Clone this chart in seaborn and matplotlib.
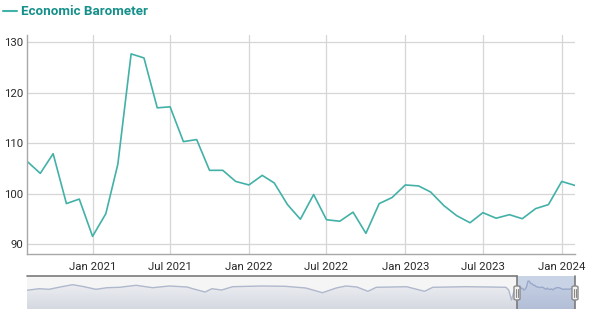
import numpy as np
import pandas as pd
import matplotlib
matplotlib.use("Agg")
import matplotlib.pyplot as plt
import matplotlib.dates as mdates
from matplotlib.patches import FancyBboxPatch
import seaborn as sns

# ---- data -------------------------------------------------------------
series_name = "Economic Barometer"
month_start = "2020-08-01"
month_end = "2024-02-01"
barometer_values = [
    106.4, 104.0, 107.9, 98.0, 98.9,
    91.5, 96.0, 105.8, 127.7, 126.9, 117.0, 117.2, 110.3, 110.7, 104.6, 104.6, 102.4,
    101.7, 103.6, 102.1, 97.8, 94.9, 99.8, 94.8, 94.5, 96.3, 92.1, 98.0, 99.2,
    101.7, 101.5, 100.3, 97.6, 95.6, 94.2, 96.2, 95.1, 95.8, 95.0, 97.0, 97.8,
    102.4, 101.6,
]
history_dates = [
    "1991-01-01", "1991-10-01", "1992-05-01", "1993-01-01", "1993-10-01",
    "1994-05-01", "1995-03-01", "1995-11-01", "1996-08-01", "1997-08-01",
    "1998-08-01", "1999-08-01", "2000-09-01", "2001-01-01", "2001-10-01",
    "2002-03-01", "2002-10-01", "2003-06-01", "2005-03-01", "2006-08-01",
    "2007-11-01", "2008-11-01", "2009-09-01", "2010-04-01", "2010-12-01",
    "2011-08-01", "2012-02-01", "2013-12-01", "2015-01-01", "2015-07-01",
    "2017-07-01", "2018-12-01", "2019-12-01", "2020-02-01", "2020-04-01",
    "2020-06-01",
]
history_values = [
    91.0, 97.2, 94.8, 104.0, 113.2,
    106.8, 94.8, 101.2, 102.8, 110.8,
    101.2, 108.0, 104.0, 97.2, 84.0,
    97.2, 92.0, 105.2, 108.0, 106.8,
    100.0, 81.2, 100.0, 108.0, 104.0,
    86.8, 102.8, 105.2, 86.8, 102.8,
    105.2, 104.0, 102.8, 92.0, 52.0,
    90.0,
]
x_tick_labels = ["Jan 2021", "Jul 2021", "Jan 2022", "Jul 2022",
                 "Jan 2023", "Jul 2023", "Jan 2024"]
y_ticks = [90, 100, 110, 120, 130]

# ---- frames -----------------------------------------------------------
months = pd.date_range(month_start, month_end, freq="MS")
main_df = pd.DataFrame({"date": months, "value": barometer_values})
nav_df = pd.concat([
    pd.DataFrame({"date": pd.to_datetime(history_dates), "value": history_values}),
    main_df,
], ignore_index=True)

# ---- style ------------------------------------------------------------
sns.set_theme(style="white")
plt.rcParams["font.family"] = ["Roboto", "DejaVu Sans"]

W, H = 600, 309
fig = plt.figure(figsize=(W / 100, H / 100), dpi=100)

def fx(px):
    return px / W

def fy(py):
    return (H - py) / H

line_color = "#43b1a7"
text_color = "#2b2b2b"
grid_color = "#d6d6d6"

# main axes: x 27..575, y 35..254 px
ax = fig.add_axes([fx(27), fy(254), fx(575) - fx(27), fy(35) - fy(254)])
sns.lineplot(data=main_df, x="date", y="value", ax=ax, color=line_color,
             linewidth=1.2, label=series_name)
ax.set_xlim(months[0], months[-1])
ax.set_ylim(88.0, 131.45)
ax.set_yticks(y_ticks)
ax.set_yticklabels([str(t) for t in y_ticks])
tick_dates = pd.to_datetime(x_tick_labels, format="%b %Y")
ax.set_xticks(tick_dates)
ax.set_xticklabels(x_tick_labels)
ax.grid(True, color=grid_color, linewidth=0.9)
ax.set_axisbelow(True)
ax.set_xlabel("")
ax.set_ylabel("")
for s in ["top", "right"]:
    ax.spines[s].set_visible(False)
ax.spines["left"].set_color("#a8a8a8")
ax.spines["bottom"].set_color("#a8a8a8")
ax.spines["left"].set_linewidth(1.0)
ax.spines["bottom"].set_linewidth(1.0)
ax.tick_params(axis="both", length=0, labelsize=8.2, colors=text_color)
ax.tick_params(axis="x", pad=6)
ax.tick_params(axis="y", pad=3)

leg = ax.legend(loc="upper left", bbox_to_anchor=(fx(-2), fy(0)),
                bbox_transform=fig.transFigure, frameon=False,
                handlelength=1.0, handletextpad=0.35, borderaxespad=0,
                prop={"weight": "bold", "size": 9.6})
for t in leg.get_texts():
    t.set_color("#15908a")
for h in leg.get_lines():
    h.set_linewidth(1.5)

# ---- navigator: x 27..575, y 276..316 px --------------------------------
nav = fig.add_axes([fx(27), fy(316), fx(575) - fx(27), fy(276) - fy(316)])
nav.set_facecolor("#f5f5f6")
sns.lineplot(data=nav_df, x="date", y="value", ax=nav, color="#b0b8cc",
             linewidth=1.0, legend=False)
x0 = nav_df["date"].iloc[0]
x1 = nav_df["date"].iloc[-1]
poly = nav.fill_between(nav_df["date"], nav_df["value"], -12, color="none")
grad = np.linspace(0, 1, 100).reshape(-1, 1)
cmap = matplotlib.colors.LinearSegmentedColormap.from_list("g", ["#eceef2", "#cfd3dc"])
img = nav.imshow(grad, aspect="auto", cmap=cmap, origin="upper",
                 extent=[mdates.date2num(x0), mdates.date2num(x1), -12, 120],
                 zorder=0.5)
img.set_clip_path(poly.get_paths()[0], transform=nav.transData)
nav.set_xlim(x0, x1)
nav.set_ylim(-12, 148)
sel0, sel1 = main_df["date"].iloc[0], main_df["date"].iloc[-1]
nav.axvspan(sel0, sel1, color=(102 / 255, 133 / 255, 194 / 255), alpha=0.3, lw=0, zorder=3)
for s in nav.spines.values():
    s.set_visible(False)
nav.set_xticks([])
nav.set_yticks([])
nav.set_xlabel("")
nav.set_ylabel("")
tr = nav.get_xaxis_transform()
nav.plot([x0, sel0], [1, 1], transform=tr, color="#7a7a7a", lw=1.2, clip_on=False, zorder=4)
nav.plot([sel0, sel0], [0, 1], transform=tr, color="#7a7a7a", lw=1.2, clip_on=False, zorder=4)
nav.plot([sel1, sel1], [0, 1], transform=tr, color="#7a7a7a", lw=1.2, clip_on=False, zorder=4)

# handles
fig.canvas.draw()
for d in (sel0, sel1):
    px = nav.transData.transform((mdates.date2num(d), 0))[0]
    hw, hh = 6, 14
    cy = 293
    box = FancyBboxPatch((px / W - hw / 2 / W, (H - cy - hh / 2) / H), hw / W, hh / H,
                         boxstyle="round,pad=0,rounding_size=0.004",
                         transform=fig.transFigure, facecolor="#f2f2f2",
                         edgecolor="#8a8a8a", linewidth=1.0, zorder=10)
    fig.patches.append(box)
    for off in (-1, 1):
        fig.lines.append(matplotlib.lines.Line2D(
            [(px + off) / W, (px + off) / W], [(H - cy - 4) / H, (H - cy + 4) / H],
            transform=fig.transFigure, color="#8a8a8a", lw=0.8, zorder=11))

fig.savefig("out.png", dpi=100)
